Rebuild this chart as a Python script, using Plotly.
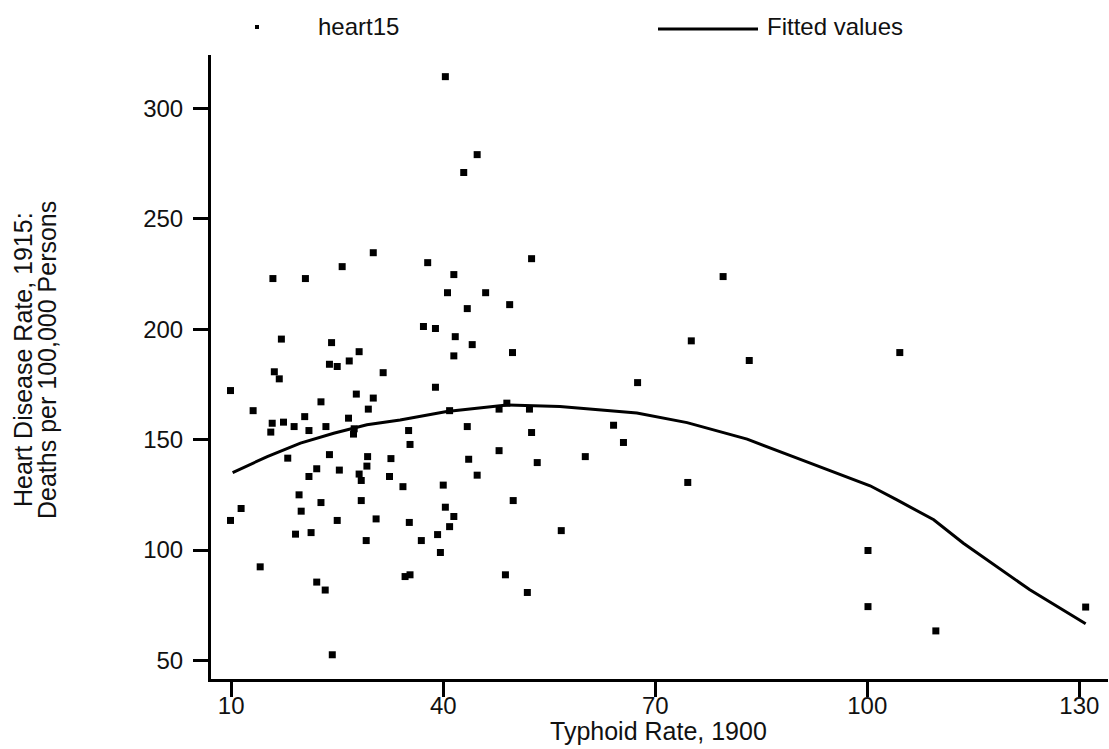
import plotly.graph_objects as go

# Scatter data: Typhoid rate 1900 (x) vs heart disease rate 1915 (y)
typhoid_1900 = [
    9.9, 15.9, 20.5, 25.7, 30.1, 17.1, 24.2, 28.1, 16.1, 16.8,
    23.9, 25.0, 26.7, 31.5, 13.1, 22.7, 27.7, 30.1, 29.4, 15.8,
    17.4, 18.9, 20.4, 15.6, 21.0, 23.4, 26.6, 27.4, 27.3, 18.0,
    23.9, 29.3, 32.6, 22.1, 25.3, 29.2, 21.0, 28.1, 28.4, 32.4,
    19.6, 22.7, 28.4, 11.4, 9.9, 19.9, 25.0, 30.5, 19.1, 21.3,
    29.1, 14.1, 22.1, 23.3, 24.3, 40.3, 44.8, 42.9, 37.8, 52.5,
    41.5, 40.6, 46.0, 43.4, 49.4, 37.2, 38.9, 41.7, 44.1, 41.5,
    49.8, 38.9, 49.0, 47.9, 52.2, 40.9, 35.1, 35.3, 43.4, 52.5,
    34.3, 47.9, 43.6, 53.3, 44.8, 40.0, 49.9, 40.3, 41.5, 40.9,
    39.2, 35.2, 36.9, 39.6, 34.6, 35.3, 48.8, 51.9, 56.7, 79.6,
    75.1, 83.3, 67.5, 64.1, 65.5, 60.1, 74.6, 104.6, 100.1, 100.1,
    109.7, 130.9,
]
heart_1915 = [
    172.2, 222.9, 222.9, 228.3, 234.6, 195.5, 193.9, 189.8, 180.7, 177.5,
    184.1, 183.1, 185.6, 180.3, 163.1, 167.1, 170.6, 168.8, 163.8, 157.4,
    157.9, 155.9, 160.4, 153.4, 154.1, 155.9, 159.7, 154.9, 152.5, 141.6,
    143.2, 142.3, 141.4, 136.8, 136.2, 138.0, 133.3, 134.4, 131.5, 133.3,
    125.0, 121.5, 122.4, 118.8, 113.4, 117.6, 113.4, 114.1, 107.2, 107.9,
    104.3, 92.4, 85.5, 81.9, 52.6, 314.3, 279.0, 270.9, 230.1, 231.9,
    224.7, 216.5, 216.5, 209.3, 211.1, 201.2, 200.3, 196.6, 193.0, 187.9,
    189.4, 173.7, 166.5, 163.8, 163.8, 163.1, 154.1, 147.8, 155.9, 153.2,
    128.7, 145.0, 141.1, 139.6, 133.9, 129.4, 122.4, 119.4, 115.2, 110.6,
    107.0, 112.5, 104.3, 98.9, 88.0, 88.8, 88.8, 80.8, 108.8, 223.8,
    194.7, 185.8, 175.8, 156.5, 148.7, 142.3, 130.6, 189.4, 99.8, 74.4,
    63.4, 74.2,
]

# Fitted values curve
fit_x = [10.2, 15.1, 19.8, 24.5, 29.2, 33.9, 40.5, 49.0, 56.5, 61.3,
         67.4, 74.5, 83.0, 89.5, 96.2, 100.4, 104.2, 109.4, 113.6, 118.3,
         123.0, 130.9]
fit_y = [135.1, 142.3, 148.4, 152.9, 156.7, 158.9, 162.7, 165.7, 165.0, 163.8,
         162.0, 157.7, 150.2, 142.3, 134.0, 129.1, 122.7, 113.7, 103.1, 92.5,
         82.0, 66.6]

x_ticks = [10, 40, 70, 100, 130]
y_ticks = [50, 100, 150, 200, 250, 300]

series_names = ["heart15", "Fitted values"]
x_title = "Typhoid Rate, 1900"
y_title_lines = ["Heart Disease Rate, 1915:", "Deaths per 100,000 Persons"]

FONT = "Liberation Sans, Arial, sans-serif"
INK = "#111111"

fig = go.Figure()
fig.add_trace(go.Scatter(
    x=typhoid_1900, y=heart_1915, mode="markers", name=series_names[0],
    marker=dict(symbol="square", size=7, color="black", line=dict(width=0)),
    showlegend=False,
))
fig.add_trace(go.Scatter(
    x=fit_x, y=fit_y, mode="lines", name=series_names[1],
    line=dict(color="black", width=3), showlegend=False,
))

W, H = 1109, 749
L, R, T, B = 211, 1, 55, 70
pw = W - L - R
ph = H - T - B

def px_x(p):
    return (p - L) / pw

def px_y(p):
    return (H - B - p) / ph

axis_common = dict(
    showline=True, linecolor="black", linewidth=3,
    ticks="outside", ticklen=15, tickwidth=3, tickcolor="black",
    showgrid=False, zeroline=False, automargin=False,
    tickfont=dict(family=FONT, size=24, color=INK),
)

fig.update_layout(
    width=W, height=H,
    margin=dict(l=L, r=R, t=T, b=B, pad=0),
    paper_bgcolor="white", plot_bgcolor="white",
    showlegend=False,
    xaxis=dict(range=[7.14, 134.06], tickvals=x_ticks,
               ticktext=[str(v) for v in x_ticks],
               ticklabelstandoff=-12,
               **axis_common),
    yaxis=dict(range=[41.63, 324.1], tickvals=y_ticks,
               ticktext=[str(v) for v in y_ticks],
               ticklabelstandoff=5,
               **axis_common),
)

# x-axis title
fig.add_annotation(
    text=x_title, xref="paper", yref="paper", x=px_x(658), y=px_y(731),
    xanchor="center", yanchor="middle", showarrow=False,
    font=dict(family=FONT, size=25, color=INK),
)

# y-axis title (two lines, rotated)
for txt, cx in zip(y_title_lines, [23, 47]):
    fig.add_annotation(
        text=txt, xref="paper", yref="paper", x=px_x(cx), y=px_y(360),
        xanchor="center", yanchor="middle", textangle=-90, showarrow=False,
        font=dict(family=FONT, size=25, color=INK),
    )

# custom legend
fig.add_shape(type="rect", xref="paper", yref="paper",
              x0=px_x(255), x1=px_x(259), y0=px_y(29), y1=px_y(25),
              fillcolor="black", line=dict(width=0))
fig.add_annotation(text=series_names[0], xref="paper", yref="paper",
                   x=px_x(316), y=px_y(27), xanchor="left", yanchor="middle",
                   showarrow=False, font=dict(family=FONT, size=24, color=INK))
fig.add_shape(type="line", xref="paper", yref="paper",
              x0=px_x(658), x1=px_x(758), y0=px_y(29), y1=px_y(29),
              line=dict(color="black", width=3))
fig.add_annotation(text=series_names[1], xref="paper", yref="paper",
                   x=px_x(765), y=px_y(27), xanchor="left", yanchor="middle",
                   showarrow=False, font=dict(family=FONT, size=24, color=INK))

fig.write_html(
    "out.html",
    config={"displayModeBar": False},
    post_script="document.body.style.margin='0';document.body.style.overflow='hidden';",
)
